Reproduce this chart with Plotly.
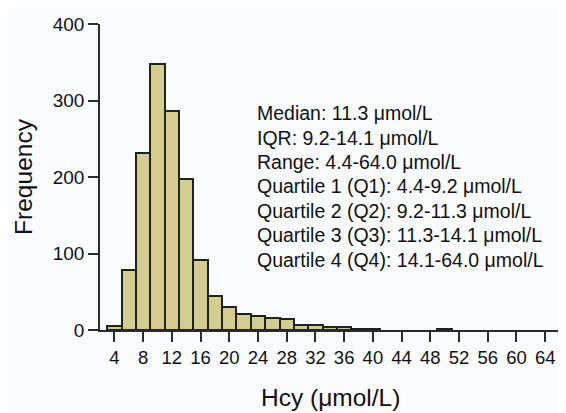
import plotly.graph_objects as go

bin_centers = [4, 6, 8, 10, 12, 14, 16, 18, 20, 22, 24, 26, 28, 30, 32, 34, 36, 38, 40, 50]
counts = [5, 79, 231, 348, 286, 197, 91, 45, 30, 21, 18, 16, 15, 7, 6, 4, 4, 1, 1, 1]
x_ticks = list(range(4, 65, 4))
y_ticks = [0, 100, 200, 300, 400]
x_title = "Hcy (μmol/L)"
y_title = "Frequency"
stats_lines = [
    "Median: 11.3 μmol/L",
    "IQR: 9.2-14.1 μmol/L",
    "Range: 4.4-64.0 μmol/L",
    "Quartile 1 (Q1): 4.4-9.2 μmol/L",
    "Quartile 2 (Q2): 9.2-11.3 μmol/L",
    "Quartile 3 (Q3): 11.3-14.1 μmol/L",
    "Quartile 4 (Q4): 14.1-64.0 μmol/L",
]

FONT = "Liberation Sans, Arial, sans-serif"
AX = "#2b2b2b"
BG = "#fafbfe"

fig = go.Figure(go.Bar(
    x=bin_centers, y=counts, width=2,
    marker=dict(color="#d5cc8f", line=dict(color="#1c2420", width=2)),
))

for i, t in enumerate(stats_lines):
    fig.add_annotation(
        x=0.337, y=0.709 - i * 0.080, xref="paper", yref="paper",
        text=t, showarrow=False, xanchor="left", yanchor="middle",
        font=dict(family=FONT, size=19.5, color="#111111"),
    )

# x-axis title as an annotation so it can sit low without pushing margins
fig.add_annotation(
    x=0.5, y=-0.222, xref="paper", yref="paper", text=x_title,
    showarrow=False, xanchor="center", yanchor="middle",
    font=dict(family=FONT, size=24.5, color="#111111"),
)

# page body adds an 8px offset; compensate so the plot area lands in place
fig.update_layout(
    width=558, height=405,
    margin=dict(l=92, r=5, t=16, b=83),
    paper_bgcolor=BG, plot_bgcolor=BG,
    showlegend=False, bargap=0,
    font=dict(family=FONT, color="#111111"),
)
fig.update_xaxes(
    range=[2, 66.2], tickvals=x_ticks, ticktext=[str(v) for v in x_ticks],
    showgrid=False, zeroline=False, showline=True, linecolor=AX, linewidth=1.5,
    ticks="outside", ticklen=10, tickwidth=1.5, tickcolor=AX,
    tickfont=dict(family=FONT, size=18.5, color="#111111"),
    automargin=False,
)
fig.update_yaxes(
    range=[0, 400], tickvals=y_ticks,
    showgrid=False, zeroline=False, showline=True, linecolor=AX, linewidth=1.5,
    ticks="outside", ticklen=10, tickwidth=1.5, tickcolor=AX,
    tickfont=dict(family=FONT, size=19, color="#111111"),
    title=dict(text=y_title, font=dict(family=FONT, size=24.5, color="#111111"), standoff=13),
    automargin=False,
)

fig.write_html("out.html")
